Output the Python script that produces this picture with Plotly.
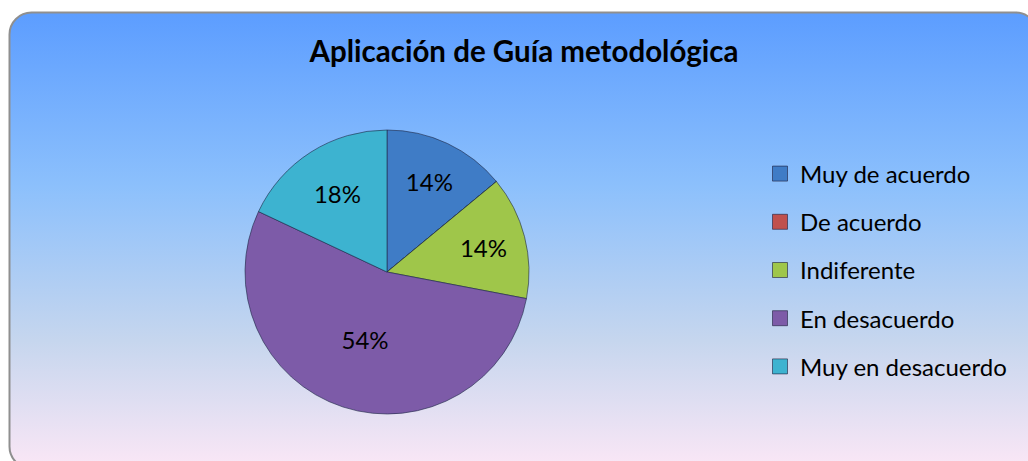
import base64
import plotly.graph_objects as go

categories = ["Muy de acuerdo", "De acuerdo", "Indiferente", "En desacuerdo", "Muy en desacuerdo"]
values = [14, 0, 14, 54, 18]
colors = ["#3F7CC6", "#C0504D", "#9FC64A", "#7D5BA8", "#3DB3D0"]
title_text = "Aplicación de Guía metodológica"

W, H = 1028, 461

# background: rounded rectangle with vertical gradient (chart area decoration)
svg = f"""<svg xmlns='http://www.w3.org/2000/svg' width='{W}' height='{H}' viewBox='0 0 {W} {H}' preserveAspectRatio='none'>
<defs><linearGradient id='g' x1='0' y1='0' x2='0' y2='1'>
<stop offset='0' stop-color='#5C9DFF'/>
<stop offset='0.38' stop-color='#8CC0FC'/>
<stop offset='0.72' stop-color='#C6D6EE'/>
<stop offset='1' stop-color='#FBE7F6'/>
</linearGradient></defs>
<rect x='9.5' y='12.5' width='1028' height='456' rx='22' ry='22' fill='url(#g)' stroke='#8F8F8F' stroke-width='2'/>
</svg>"""
svg_uri = "data:image/svg+xml;base64," + base64.b64encode(svg.encode()).decode()

fig = go.Figure()

fig.add_trace(go.Pie(
    labels=categories,
    values=values,
    sort=False,
    direction="clockwise",
    rotation=0,
    marker=dict(colors=colors, line=dict(color="rgba(30,40,70,0.6)", width=1)),
    textinfo="percent",
    texttemplate="%{percent:.0%}",
    textposition="inside",
    insidetextorientation="horizontal",
    textfont=dict(family="Lato, Calibri, sans-serif", size=24, color="black"),
    showlegend=False,
    hoverinfo="label+percent",
    domain=dict(x=[(387 - 142) / W, (387 + 142) / W], y=[(H - 272 - 142) / H, (H - 272 + 142) / H]),
))

for name, col in zip(categories, colors):
    fig.add_trace(go.Scatter(
        x=[None], y=[None], mode="markers", name=name,
        legendgroup=name,
        marker=dict(symbol="square", size=15, color=col, line=dict(color="rgba(30,30,60,0.6)", width=1)),
    ))

fig.update_layout(
    width=W, height=H,
    margin=dict(l=0, r=0, t=0, b=0),
    paper_bgcolor="white",
    plot_bgcolor="rgba(0,0,0,0)",
    xaxis=dict(visible=False),
    yaxis=dict(visible=False),
    title=dict(text=f"<b>{title_text}</b>", x=524 / W, xanchor="center", y=1 - 52 / H, yanchor="middle",
               font=dict(family="Lato, Calibri, sans-serif", size=29.5, color="black")),
    legend=dict(x=760 / W, xanchor="left", y=(H - 270) / H, yanchor="middle",
                bgcolor="rgba(0,0,0,0)", tracegroupgap=14, traceorder="grouped",
                font=dict(family="Lato, Calibri, sans-serif", size=24, color="black")),
    images=[dict(source=svg_uri, xref="paper", yref="paper", x=0, y=1, sizex=1, sizey=1,
                 xanchor="left", yanchor="top", sizing="stretch", layer="below")],
)

fig.write_html("out.html", config={"displayModeBar": False},
               post_script="document.body.style.margin='0';document.body.style.overflow='hidden';")
